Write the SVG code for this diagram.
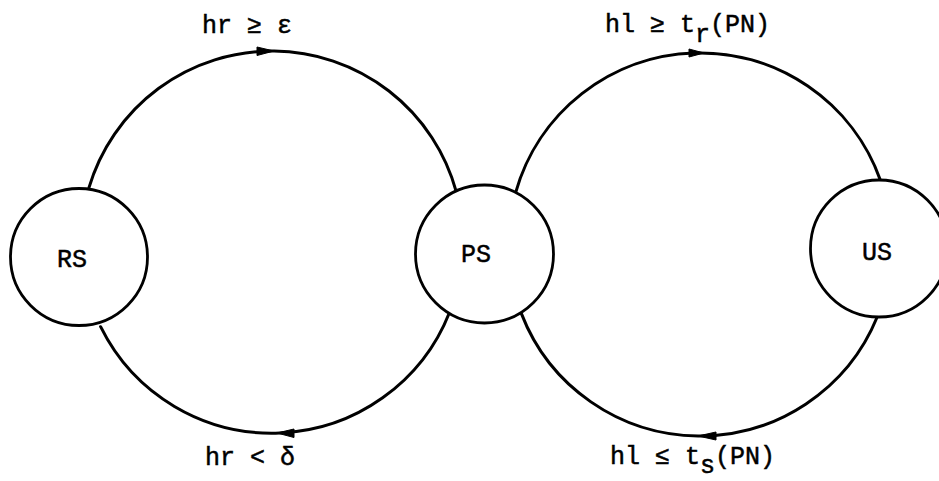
<svg xmlns="http://www.w3.org/2000/svg" width="939" height="481" viewBox="0 0 939 481">
<style>
.node{fill:#fff;stroke:#000;stroke-width:2.8}
.edge{fill:none;stroke:#000;stroke-width:3;stroke-linecap:round}
.head{fill:#000;stroke:#000;stroke-width:1}
.lbl{font-family:"Liberation Mono","Courier New",monospace;font-size:25px;fill:#000;stroke:#000;stroke-width:0.5}
</style>
<rect width="939" height="481" fill="#fff"/>
<g id="connectors">
  <path class="edge" d="M88.8,188.2 A191,191 0 0 1 456.4,192.2"/>
  <path class="edge" d="M449.6,312.2 A191,191 0 0 1 100.6,326.7"/>
  <path class="edge" d="M515.7,192.3 A191.5,191.5 0 0 1 880.4,180.2"/>
  <path class="edge" d="M877.3,316.8 A191.5,191.5 0 0 1 521.3,313.4"/>
  <polygon class="head" points="274,51 257,47 257,55.5"/>
  <polygon class="head" points="277,433 294,429 294,437.5"/>
  <polygon class="head" points="704,53 689,49 689,57"/>
  <polygon class="head" points="698,436 716,432 716,440"/>
  <text class="lbl" x="202" y="33">hr ≥ ε</text>
  <text class="lbl" x="205" y="465">hr &lt; δ</text>
  <text class="lbl" x="605" y="32">hl ≥ t<tspan dy="10">r</tspan><tspan dy="-10">(PN)</tspan></text>
  <text class="lbl" x="610" y="464">hl ≤ t<tspan dy="9">s</tspan><tspan dy="-9">(PN)</tspan></text>
</g>
<g id="node-RS">
  <circle class="node" cx="79" cy="257" r="68.5"/>
  <text class="lbl" x="72" y="267" text-anchor="middle">RS</text>
</g>
<g id="node-PS">
  <circle class="node" cx="484.5" cy="254" r="69"/>
  <text class="lbl" x="476" y="262" text-anchor="middle">PS</text>
</g>
<g id="node-US">
  <circle class="node" cx="879" cy="248.5" r="68.5"/>
  <text class="lbl" x="877" y="260" text-anchor="middle">US</text>
</g>
</svg>
